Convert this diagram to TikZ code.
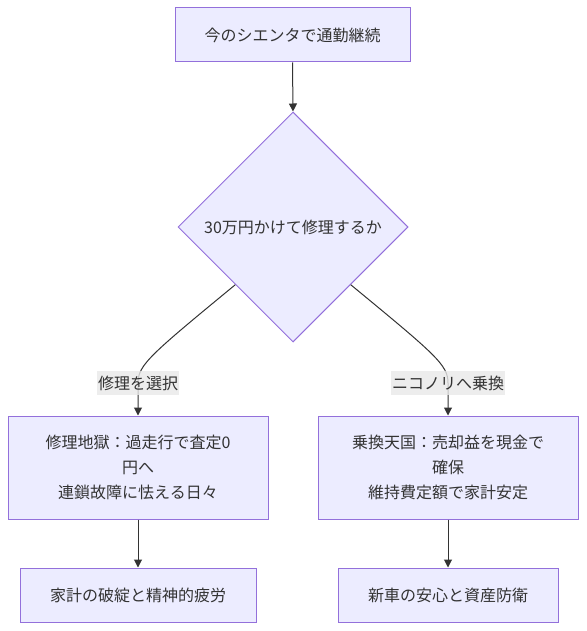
\documentclass[tikz,border=0pt]{standalone}
\usepackage{fontspec}
\setmainfont{Noto Sans CJK JP}
\usetikzlibrary{shapes.geometric,arrows.meta,calc}
\definecolor{nodefill}{HTML}{ECECFF}
\definecolor{nodeline}{HTML}{9370DB}
\definecolor{edgeline}{HTML}{333333}
\definecolor{lblfill}{HTML}{E8E8E8}
\begin{document}
\begin{tikzpicture}[x=1pt,y=-1pt,
  every node/.style={font=\fontsize{16}{25}\selectfont, text=edgeline},
  box/.style={draw=nodeline, fill=nodefill, line width=1pt, align=center, inner sep=0pt},
  dec/.style={draw=nodeline, fill=nodefill, line width=1pt, shape=diamond, aspect=1, inner sep=0pt, minimum width=230pt, minimum height=230pt},
  conn/.style={draw=edgeline, line width=1pt, -{Triangle[length=8pt,width=8pt]}},
  elabel/.style={fill=lblfill, fill opacity=0.8, text opacity=1, inner sep=1pt, minimum height=24pt}
]
\useasboundingbox (0,0) rectangle (586,631);
\node[box, minimum width=235pt, minimum height=54pt] (start) at (292.5,35) {今のシエンタで通勤継続};
\node[dec] (q) at (293,227) {30万円かけて修理するか};
\node[box, minimum width=260pt, minimum height=103pt] (repair) at (138,467.5) {修理地獄：過走行で査定0\\円へ\\連鎖故障に怯える日々};
\node[box, minimum width=260pt, minimum height=103pt] (switch) at (448,467.5) {乗換天国：売却益を現金で\\確保\\維持費定額で家計安定};
\node[box, minimum width=236pt, minimum height=54pt] (ruin) at (138,595) {家計の破綻と精神的疲労};
\node[box, minimum width=220pt, minimum height=54pt] (safe) at (448,595) {新車の安心と資産防衛};

\coordinate (qsw) at ($(q.west)!0.5!(q.south)$);
\coordinate (qse) at ($(q.east)!0.5!(q.south)$);
\coordinate (lmid) at (138,383);
\coordinate (rmid) at (448,383);

\draw[conn] (start.south) -- (q.north);
\draw[conn] (qsw) .. controls (150,355) and (138,365) .. (lmid) -- (repair.north);
\draw[conn] (qse) .. controls (436,355) and (448,365) .. (rmid) -- (switch.north);
\draw[conn] (repair.south) -- (ruin.north);
\draw[conn] (switch.south) -- (safe.north);

\node[elabel] (l1) at (lmid) {修理を選択};
\node[elabel] (l2) at (rmid) {ニコノリへ乗換};
\end{tikzpicture}
\end{document}
